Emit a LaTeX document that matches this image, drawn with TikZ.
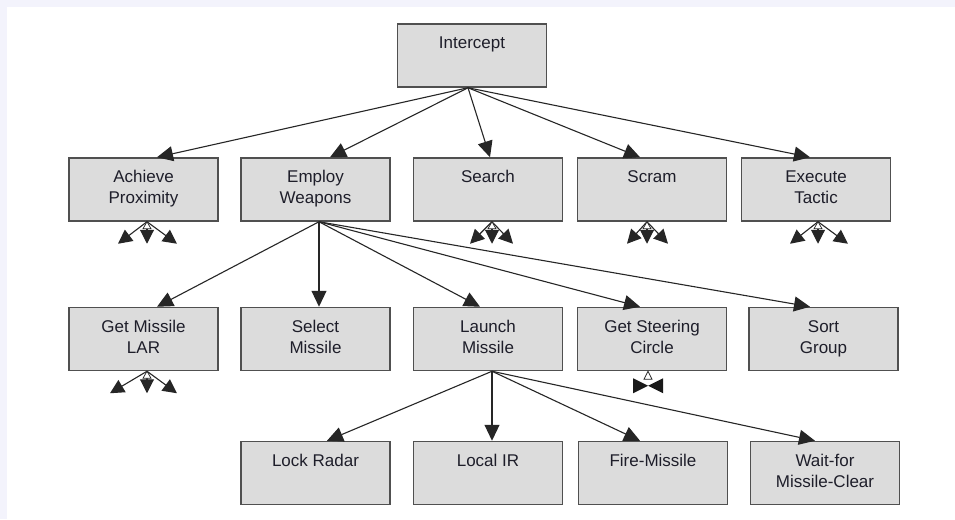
\documentclass[tikz,border=0pt]{standalone}
\usepackage{fontspec}
\setmainfont{Liberation Sans}
\usetikzlibrary{arrows.meta,calc}
\definecolor{pagebg}{HTML}{F3F3FC}
\definecolor{boxfill}{HTML}{DCDCDC}
\definecolor{boxline}{HTML}{505050}
\definecolor{ink}{HTML}{1E1E2A}
\begin{document}
\begin{tikzpicture}[x=1pt,y=-1pt,
  task/.style={draw=boxline, line width=1.5pt, fill=boxfill,
    minimum width=149pt, minimum height=63pt, inner sep=0pt},
  tasktext/.style={anchor=north, inner sep=0pt, align=center, text=ink,
    font=\fontsize{17}{21}\selectfont},
  link/.style={draw=black!85, line width=1.1pt, -{Triangle[length=16pt,width=15pt]}},
  sub/.style={draw=black!85, line width=1.1pt, -{Triangle[length=14pt,width=14pt]}},
  orsign/.style={draw=black!85, line width=0.7pt, fill=white}]

% page and panel
\fill[pagebg] (0,0) rectangle (955,519);
\fill[white] (7,7) rectangle (955,519);
\useasboundingbox (0,0) rectangle (955,519);

% task boxes
\node[task] (icpt)  at (472,55.5) {};
\node[task] (ach)   at (143.5,189.5) {};
\node[task] (emp)   at (315.5,189.5) {};
\node[task] (srch)  at (488,189.5) {};
\node[task] (scram) at (652,189.5) {};
\node[task] (exec)  at (816,189.5) {};
\node[task] (lar)   at (143.5,339) {};
\node[task] (sel)   at (315.5,339) {};
\node[task] (lnch)  at (488,339) {};
\node[task] (steer) at (652,339) {};
\node[task] (sort)  at (823.5,339) {};
\node[task] (lock)  at (315.5,473) {};
\node[task] (lir)   at (488,473) {};
\node[task] (fire)  at (653,473) {};
\node[task] (wait)  at (825,473) {};

% box labels, set from the top edge
\foreach \n/\t in {icpt/Intercept, ach/{Achieve\\Proximity}, emp/{Employ\\Weapons},
  srch/Search, scram/Scram, exec/{Execute\\Tactic}, lar/{Get Missile\\LAR},
  sel/{Select\\Missile}, lnch/{Launch\\Missile}, steer/{Get Steering\\Circle},
  sort/{Sort\\Group}, lock/Lock Radar, lir/Local IR, fire/Fire-Missile,
  wait/{Wait-for\\Missile-Clear}}
  \node[tasktext] (\n-t) at ([yshift=-10.8pt]\n.north) {\strut\t};

% decomposition links
\coordinate (icpt-o) at ([xshift=-4pt]icpt.south);
\foreach \n/\d in {ach/13.5, emp/14.5, srch/2, scram/-12, exec/-6}
  \draw[link] (icpt-o) -- ([xshift=\d pt]\n.north);
\coordinate (emp-o) at ([xshift=3.5pt]emp.south);
\foreach \n/\d in {lar/13.5, sel/3.5, lnch/-8, steer/-12, sort/-13.5}
  \draw[link] (emp-o) -- ([xshift=\d pt]\n.north);
\coordinate (lnch-o) at ([xshift=4pt]lnch.south);
\foreach \n/\d in {lock/11.5, lir/4, fire/-13, wait/-10}
  \draw[link] (lnch-o) -- ([xshift=\d pt]\n.north);

% unexpanded sub-task fans
\foreach \n/\o/\l/\r in {ach/3.5/-29/30, srch/4/-22/21, scram/-5/-20/21,
  exec/2/-28/30, lar/3.5/-37/30}{
  \coordinate (\n-o) at ([xshift=\o pt]\n.south);
  \coordinate (\n-a) at ($(\n-o)+(\l,22)$);
  \coordinate (\n-b) at ($(\n-o)+(0,22)$);
  \coordinate (\n-c) at ($(\n-o)+(\r,22)$);
  \draw[sub] (\n-o) -- (\n-a);
  \draw[sub] (\n-o) -- (\n-b);
  \draw[sub] (\n-o) -- (\n-c);
  \draw[orsign] (\n-o) -- ++(-4,7) -- ++(8,0) -- cycle;
}

% bow-tie marker under Get Steering Circle
\coordinate (steer-o) at ([xshift=-4pt]steer.south);
\fill[black!90] ($(steer-o)+(-15,7)$) -- ($(steer-o)+(-15,22)$) -- ($(steer-o)+(0,14.5)$) -- cycle;
\fill[black!90] ($(steer-o)+(15,7)$) -- ($(steer-o)+(15,22)$) -- ($(steer-o)+(0,14.5)$) -- cycle;
\draw[orsign] (steer-o) -- ++(-4,8) -- ++(8,0) -- cycle;
\end{tikzpicture}
\end{document}
